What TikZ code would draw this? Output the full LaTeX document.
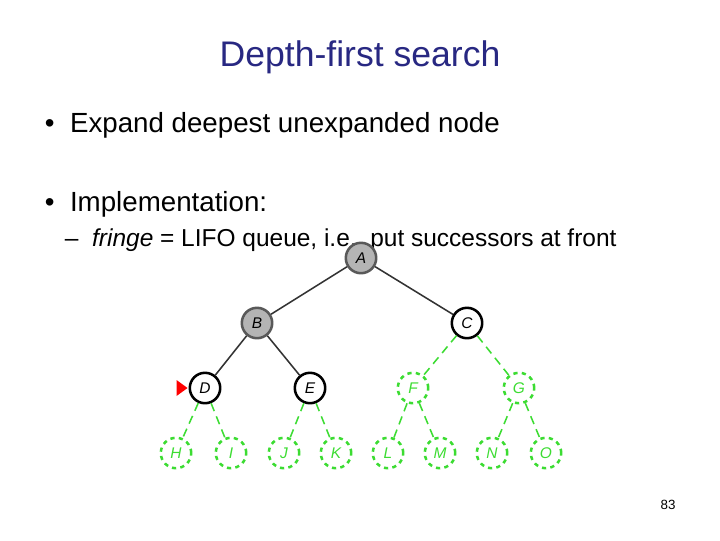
\documentclass[tikz,border=0pt]{standalone}
\usepackage{fontspec}
\setmainfont{Liberation Sans}
\definecolor{titleblue}{RGB}{40,40,130}
\definecolor{fgreen}{RGB}{60,220,50}
\definecolor{ngray}{RGB}{180,180,180}
\begin{document}
\begin{tikzpicture}[x=0.025cm,y=-0.025cm,
  vnode/.style={circle,draw=black,line width=1.8pt,minimum size=0.76cm,inner sep=0pt,font=\fontsize{11}{11}\selectfont\itshape},
  gnode/.style={vnode,fill=ngray,draw=gray!70!black},
  fnode/.style={vnode,draw=fgreen,dashed,text=fgreen},
  tedge/.style={line width=1.1pt,black!80},
  fedge/.style={line width=1.1pt,fgreen,dash pattern=on 6pt off 4pt}]
\useasboundingbox (0,0) rectangle (720,540);
\node[titleblue,font=\fontsize{25.3}{25}\selectfont] (title) at (360,57) {Depth-first search};
\node[anchor=west,font=\fontsize{19.7}{19}\selectfont] (b1) at (40,125) {\textbullet\ \ Expand deepest unexpanded node};
\node[anchor=west,font=\fontsize{19.7}{19}\selectfont] (b2) at (40,204) {\textbullet\ \ Implementation:};
\node[anchor=west,font=\fontsize{17.4}{17}\selectfont] (b3) at (60,240) {--\ \ \textit{fringe} = LIFO queue, i.e., put successors at front};
\node[font=\fontsize{9.5}{9}\selectfont] (pg) at (668,505) {83};

% expanded and visited nodes
\node[gnode] (nA) at (361,258) {A};
\node[gnode] (nB) at (257,323) {B};
\node[vnode] (nC) at (467,323) {C};
\node[vnode] (nD) at (205,388) {D};
\node[vnode] (nE) at (310,388) {E};

% fringe-to-be nodes
\foreach \n/\x/\y in {F/413/388, G/519/388,
    H/176/453, I/231/453, J/284/453, K/336/453,
    L/388/453, M/440/453, N/492/453, O/546/453}
  \node[fnode] (n\n) at (\x,\y) {\n};

\draw[tedge] (nA) -- (nB);
\draw[tedge] (nA) -- (nC);
\draw[tedge] (nB) -- (nD);
\draw[tedge] (nB) -- (nE);
\foreach \a/\b in {C/F, C/G, D/H, D/I, E/J, E/K, F/L, F/M, G/N, G/O}
  \draw[fedge] (n\a) -- (n\b);

\fill[red] (nD.west) ++(-1,0) -- ++(-11,-8) -- ++(0,16) -- cycle;
\end{tikzpicture}
\end{document}
